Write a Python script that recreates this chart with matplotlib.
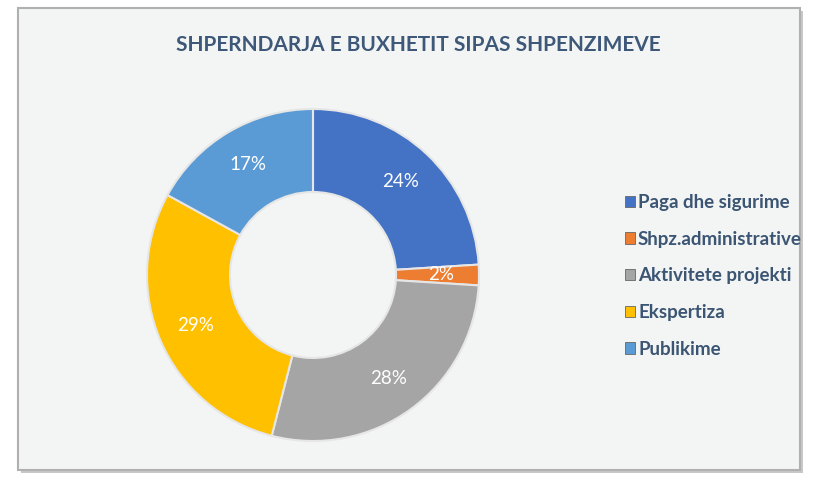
import matplotlib
matplotlib.use("Agg")
import matplotlib.pyplot as plt
from matplotlib.patches import Rectangle, Patch

categories = ["Paga dhe sigurime", "Shpz.administrative", "Aktivitete projekti", "Ekspertiza", "Publikime"]
values = [24, 2, 28, 29, 17]
colors = ["#4472c4", "#ed7d31", "#a5a5a5", "#ffc000", "#5b9bd5"]
title = "SHPERNDARJA E BUXHETIT SIPAS SHPENZIMEVE"

W, H = 814, 486
fig = plt.figure(figsize=(W / 100, H / 100), dpi=100)
fig.patch.set_facecolor("white")

def fx(px): return px / W
def fy(py): return 1 - py / H

shadow = Rectangle((fx(21), fy(473)), fx(782), (470 - 8) / H, transform=fig.transFigure,
                   facecolor="#c8c8c8", edgecolor="none", zorder=-2)
frame = Rectangle((fx(18), fy(470)), fx(782), (470 - 8) / H, transform=fig.transFigure,
                  facecolor="#f3f4f4", edgecolor="#b0b0b0", linewidth=1.5, zorder=-1)
fig.patches.extend([shadow, frame])

plt.rcParams['font.family'] = ['Lato', 'DejaVu Sans']

fig.text(fx(418), fy(45), title, ha="center", va="center", fontsize=15,
         fontweight="bold", color="#3d5878", zorder=3)

cx, cy, r = 313, 275, 166
ax = fig.add_axes([fx(cx - r), fy(cy + r), 2 * r / W, 2 * r / H])
ax.set_zorder(2)
ax.set_facecolor("none")
wedges, texts, autotexts = ax.pie(
    values, colors=colors, startangle=90, counterclock=False,
    autopct=lambda p: f"{p:.0f}%", pctdistance=0.77,
    wedgeprops=dict(width=0.5, edgecolor="#e6e6e6", linewidth=1.5),
    textprops=dict(color="white", fontsize=13.5))
ax.set_aspect("equal")
ax.set_xlim(-1.0, 1.0)
ax.set_ylim(-1.0, 1.0)
ax.axis("off")

handles = [Patch(facecolor=c, edgecolor="#666666", linewidth=0.6) for c in colors]
leg = fig.legend(handles, categories, loc="upper left",
                 bbox_to_anchor=(fx(608), fy(177)), frameon=False,
                 handlelength=0.55, handleheight=0.55, handletextpad=0.15,
                 labelspacing=1.05, fontsize=13.5)
leg.set_zorder(3)
for t in leg.get_texts():
    t.set_color("#3b5573")
    t.set_fontweight("bold")

fig.savefig("out.png", dpi=100, facecolor=fig.get_facecolor())
